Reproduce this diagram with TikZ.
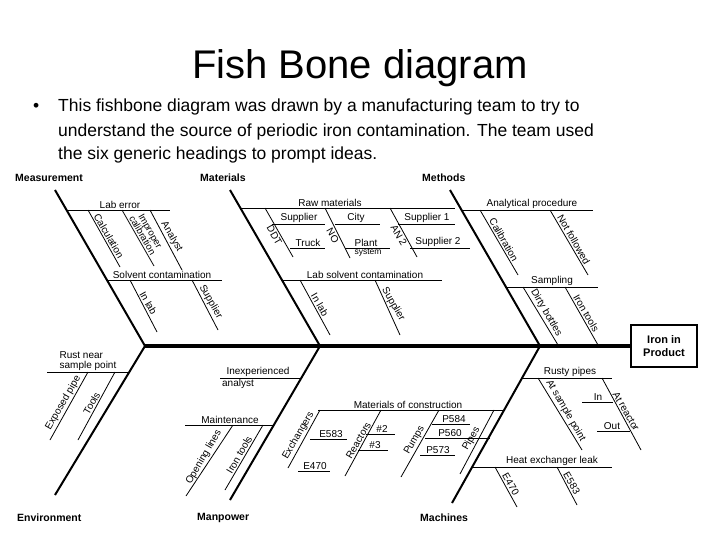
\documentclass[tikz,border=0pt]{standalone}
\usepackage{fontspec}
\setmainfont{Liberation Sans}
\begin{document}
\begin{tikzpicture}[x=1pt,y=-1pt,
  lbl/.style={font=\fontsize{10}{10.5}\selectfont, inner sep=1pt, align=center},
  rt/.style={lbl, rotate=-60, anchor=south, inner sep=1.5pt},
  lfd/.style={lbl, rotate=-60, anchor=north, inner sep=1.5pt},
  lf/.style={lbl, rotate=60, anchor=south, inner sep=1.5pt},
  hd/.style={font=\bfseries\fontsize{10.5}{12}\selectfont, anchor=west, inner sep=0pt},
  bone/.style={line width=2pt},
  sub/.style={line width=0.8pt},
  body/.style={font=\fontsize{17.5}{22}\selectfont, anchor=base west, inner sep=0pt}]
\useasboundingbox (0,0) rectangle (720,540);
% title and text
\node[font=\fontsize{40}{44}\selectfont] (title) at (360,68) {Fish Bone diagram};
\node[body] (bul) at (33,112) {\textbullet};
\node[body] (t1) at (58,112) {This fishbone diagram was drawn by a manufacturing team to try to};
\node[body] (t2) at (58,137) {understand the source of periodic iron contamination. The team used};
\node[body] (t3) at (58,160) {the six generic headings to prompt ideas.};
\fill[white] (0,164) rectangle (720,540);
% headings
\node[hd] (hm) at (15,178) {Measurement};
\node[hd] (hma) at (200,178) {Materials};
\node[hd] (hme) at (422,178) {Methods};
\node[hd] (he) at (17,518) {Environment};
\node[hd] (hmp) at (197,518) {Manpower};
\node[hd] (hmc) at (420,518) {Machines};
% spine and head
\node[draw, line width=1.2pt, font=\bfseries\fontsize{11}{13}\selectfont, align=center, minimum width=66pt, minimum height=42pt, inner sep=2pt] (head) at (664,346) {Iron in\\Product};
\coordinate (s0) at (145,346);
\draw[line width=4pt] (s0) -- (head.west);
% main bones
\draw[bone] (55,190) -- (145,346);
\draw[bone] (230,190) -- (320,346);
\draw[bone] (450,190) -- (540,346);
\draw[bone] (55,495) -- (145,346);
\draw[bone] (230,500) -- (320,346);
\draw[bone] (452,503) -- (540,346);
% ---- Measurement
\draw[sub] (66,210) -- (170,210);
\node[lbl,above] at (120,210) {Lab error};
\draw[sub] (88,210) -- node[rt] {Calculation} (120,267);
\draw[sub] (122,210) -- node[rt,font=\fontsize{9.5}{9}\selectfont] {Improper\\calibration} (154,266);
\draw[sub] (150,210) -- node[rt] {Analyst} (182,270);
\draw[sub] (107,280) -- (222,280);
\node[lbl,above] at (162,280) {Solvent contamination};
\draw[sub] (130,280) -- node[rt] {In lab} (157,332);
\draw[sub] (192,280) -- node[rt] {Supplier} (218,330);
% ---- Materials
\draw[sub] (241,208) -- (455,208);
\node[lbl,above] at (330,208) {Raw materials};
\draw[sub] (265,208) -- node[lfd] {DDT} (293,257);
\draw[sub] (272,224) -- (325,224);
\node[lbl,above] at (299,224) {Supplier};
\draw[sub] (290,248) -- (325,248);
\node[lbl,above] at (308,248) {Truck};
\draw[sub] (325,208) -- node[lfd] {NO} (350,258);
\draw[sub] (335,224) -- (380,224);
\node[lbl,above] at (356,224) {City};
\draw[sub] (345,248) -- (390,248);
\node[lbl,above] at (366,248) {Plant};
\node[lbl,below,font=\fontsize{8.5}{9}\selectfont] at (368,248) {system};
\draw[sub] (390,208) -- node[lfd] {AN 2} (417,257);
\draw[sub] (398,224) -- (455,224);
\node[lbl,above] at (427,224) {Supplier 1};
\draw[sub] (410,248) -- (470,248);
\node[lbl,above] at (438,248) {Supplier 2};
\draw[sub] (282,280) -- (442,280);
\node[lbl,above] at (365,280) {Lab solvent contamination};
\draw[sub] (300,280) -- node[rt] {In lab} (330,335);
\draw[sub] (375,280) -- node[rt] {Supplier} (400,335);
% ---- Methods
\draw[sub] (462,210) -- (593,210);
\node[lbl,above] at (532,210) {Analytical procedure};
\draw[sub] (480,210) -- node[rt] {Calibration} (518,275);
\draw[sub] (550,210) -- node[rt] {Not followed} (588,275);
\draw[sub] (506,287) -- (598,287);
\node[lbl,above] at (552,287) {Sampling};
\draw[sub] (523,287) -- node[rt] {Dirty bottles} (558,345);
\draw[sub] (565,287) -- node[rt] {Iron tools} (598,345);
% ---- Environment
\draw[sub] (47,372) -- (130,372);
\node[lbl,above,align=left] at (88,372) {Rust near\\sample point};
\draw[sub] (50,440) -- node[lf] {Exposed pipe} (88,372);
\draw[sub] (78,440) -- node[lf] {Tools} (115,372);
% ---- Manpower
\draw[sub] (220,378) -- (302,378);
\node[lbl,above] at (258,378) {Inexperienced};
\node[lbl,below] at (238,378) {analyst};
\draw[sub] (185,425) -- (274,425);
\node[lbl,above] at (230,425) {Maintenance};
\draw[sub] (186,496) -- node[lf] {Opening lines} (233,425);
\draw[sub] (225,490) -- node[lf] {Iron tools} (263,425);
% ---- Machines
\draw[sub] (318,410) -- (504,410);
\node[lbl,above] at (408,410) {Materials of construction};
\draw[sub] (288,468) -- node[lf] {Exchangers} (320,410);
\draw[sub] (310,439) -- (347,439);
\node[lbl,above] at (331,439) {E583};
\draw[sub] (298,471) -- (330,471);
\node[lbl,above] at (315,471) {E470};
\draw[sub] (345,476) -- node[lf] {Reactors} (381,410);
\draw[sub] (366,434) -- (395,434);
\node[lbl,above] at (382,434) {\#2};
\draw[sub] (358,450) -- (388,450);
\node[lbl,above] at (375,450) {\#3};
\draw[sub] (401,477) -- node[lf] {Pumps} (439,410);
\draw[sub] (432,424) -- (470,424);
\node[lbl,above] at (454,424) {P584};
\draw[sub] (425,438) -- (490,438);
\node[lbl,above] at (450,438) {P560};
\draw[sub] (420,455) -- (455,455);
\node[lbl,above] at (438,455) {P573};
\draw[sub] (460,474) -- node[lf] {Pipes} (494,410);
\draw[sub] (522,378) -- (612,378);
\node[lbl,above] at (570,378) {Rusty pipes};
\draw[sub] (538,378) -- node[rt] {At sample point} (582,450);
\draw[sub] (602,378) -- node[rt] {At reactor} (641,450);
\draw[sub] (582,402) -- (613,402);
\node[lbl,above] at (598,402) {In};
\draw[sub] (597,431) -- (630,431);
\node[lbl,above] at (612,431) {Out};
\draw[sub] (472,467) -- (612,467);
\node[lbl,above] at (552,467) {Heat exchanger leak};
\draw[sub] (495,467) -- node[rt] {E470} (517,507);
\draw[sub] (557,467) -- node[rt] {E583} (577,505);
\end{tikzpicture}
\end{document}
